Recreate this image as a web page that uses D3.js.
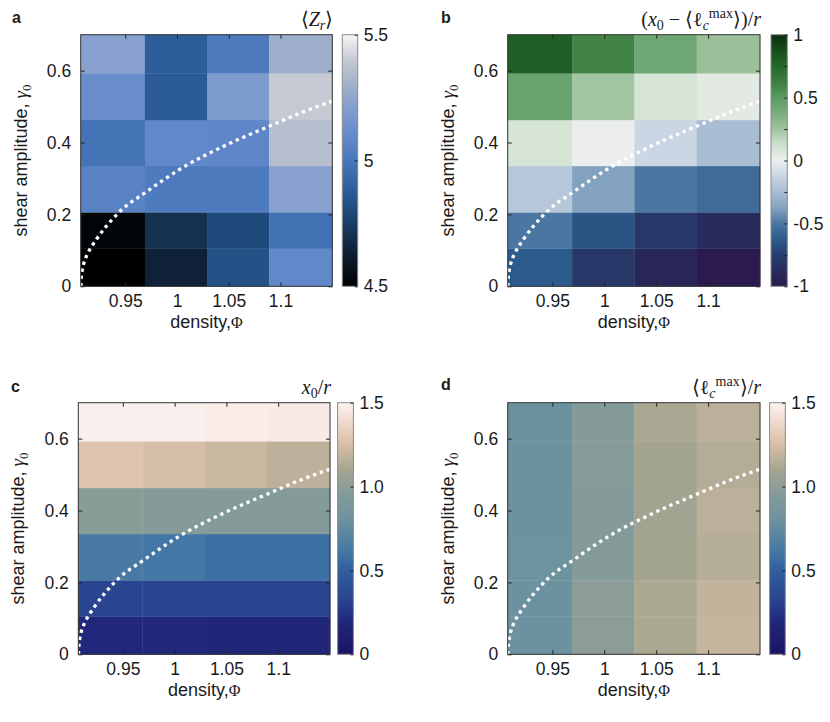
<!DOCTYPE html>
<html>
<head>
<meta charset="utf-8">
<script src="https://cdn.jsdelivr.net/npm/d3@7"></script>
<style>
  body { margin: 0; background: #fff; }
  svg { display: block; }
</style>
</head>
<body>
<script>
// ---- data (rows go bottom -> top, columns left -> right) ----
const densityEdges = [0.907, 0.969, 1.029, 1.089, 1.15];
const gammaEdges = [0, 0.105, 0.206, 0.335, 0.463, 0.593, 0.7];
const densityTicks = [0.95, 1, 1.05, 1.1];
const gammaTicks = [0, 0.2, 0.4, 0.6];

const zrValues = [
    [4.50, 4.64, 4.83, 5.09],
    [4.52, 4.70, 4.80, 4.97],
    [5.06, 5.02, 5.02, 5.22],
    [4.98, 5.09, 5.08, 5.36],
    [5.12, 4.87, 5.19, 5.40],
    [5.22, 4.88, 5.02, 5.29]
];
const diffValues = [
    [-0.62, -0.80, -0.92, -1.00],
    [-0.50, -0.65, -0.80, -0.88],
    [-0.20, -0.38, -0.50, -0.55],
    [0.10, 0.00, -0.12, -0.25],
    [0.45, 0.24, 0.10, 0.04],
    [0.80, 0.60, 0.42, 0.27]
];
const x0Values = [
    [0.20, 0.20, 0.19, 0.19],
    [0.33, 0.33, 0.32, 0.32],
    [0.63, 0.61, 0.58, 0.58],
    [0.98, 0.96, 0.95, 0.95],
    [1.28, 1.25, 1.21, 1.17],
    [1.48, 1.48, 1.47, 1.46]
];
const lcValues = [
    [0.80, 0.99, 1.12, 1.19],
    [0.80, 0.99, 1.12, 1.18],
    [0.81, 0.96, 1.09, 1.15],
    [0.80, 0.96, 1.08, 1.16],
    [0.80, 0.97, 1.09, 1.14],
    [0.79, 0.96, 1.11, 1.16]
];

// boundary curve (density, gamma)
const boundaryCurve = [
    [0.9072, 0.000], [0.9076, 0.025], [0.9085, 0.045], [0.910, 0.064],
    [0.913, 0.087], [0.917, 0.108], [0.922, 0.130], [0.932, 0.168],
    [0.947, 0.214], [0.969, 0.260], [1.007, 0.333], [1.046, 0.391],
    [1.088, 0.444], [1.127, 0.491], [1.150, 0.515]
];

const zrTicks = [4.5, 5, 5.5];
const diffTicks = [-1, -0.5, 0, 0.5, 1];
const diffMinorTicks = [-0.75, -0.25, 0.25, 0.75];
const ratioTicks = [0, 0.5, 1.0, 1.5];

// ---- colormaps ----
const zrMap = [[4.5, "#000000"], [4.64, "#0f2136"], [4.8, "#1f4b7c"], [4.88, "#2d5e9a"],
    [5.0, "#4977bb"], [5.1, "#648acb"], [5.22, "#87a0ce"], [5.32, "#a8b5cb"],
    [5.4, "#c5c9d2"], [5.5, "#f6f6f6"]];
const diffMap = [[-1, "#2a1a4e"], [-0.875, "#272c5e"], [-0.75, "#263f6f"], [-0.625, "#2a5a8a"],
    [-0.5, "#4b76a2"], [-0.375, "#85a4c0"], [-0.25, "#a9bdd3"], [-0.125, "#c9d5e3"],
    [0, "#eceeed"], [0.125, "#cfe1cf"], [0.25, "#a0c39e"], [0.375, "#7aad7d"],
    [0.5, "#5a9c62"], [0.625, "#3b7e3e"], [0.75, "#24682a"], [0.875, "#174e1a"], [1, "#0d2e0f"]];
const ratioMap = [[0, "#1a1464"], [0.2, "#21277a"], [0.33, "#2a4590"], [0.5, "#2f5e9c"],
    [0.6, "#4276a5"], [0.8, "#6b929e"], [0.97, "#879c99"], [1.1, "#a5a58f"],
    [1.18, "#c2b39d"], [1.27, "#dcc2aa"], [1.38, "#efd9cc"], [1.5, "#fdf3f3"]];

const makeColor = stops => d3.scaleLinear()
    .domain(stops.map(s => s[0]))
    .range(stops.map(s => s[1]))
    .interpolate(d3.interpolateRgb)
    .clamp(true);

const sans = "'Liberation Sans', Arial, sans-serif";
const serif = "'Liberation Serif', 'Times New Roman', serif";
const textColor = "#1a1a1a";

const svg = d3.select("body").append("svg")
    .attr("width", 830)
    .attr("height", 722);

const panels = [
    { id: "a", left: 80.7, top: 34.7, w: 251.6, h: 251.6, cbGap: 10, cbW: 15.4,
      values: zrValues, map: zrMap, cbTicks: zrTicks, cbMinor: [], fmt: d => d3.format("")(d),
      letterX: 12, letterY: 23, title: "zr" },
    { id: "b", left: 507.7, top: 34.7, w: 252.3, h: 251.6, cbGap: 11, cbW: 16.3,
      values: diffValues, map: diffMap, cbTicks: diffTicks, cbMinor: diffMinorTicks, fmt: d => String(d),
      letterX: 441, letterY: 23, title: "diff" },
    { id: "c", left: 78.3, top: 402.7, w: 251.7, h: 251.6, cbGap: 7.6, cbW: 15.8,
      values: x0Values, map: ratioMap, cbTicks: ratioTicks, cbMinor: [], fmt: d => d3.format(".1f")(d).replace("0.0", "0"),
      letterX: 11, letterY: 392, title: "x0" },
    { id: "d", left: 507.7, top: 402.7, w: 252.3, h: 251.6, cbGap: 9.6, cbW: 15.7,
      values: lcValues, map: ratioMap, cbTicks: ratioTicks, cbMinor: [], fmt: d => d3.format(".1f")(d).replace("0.0", "0"),
      letterX: 441, letterY: 390, title: "lc" }
];

panels.forEach(p => {
    const color = makeColor(p.map);
    const xScale = d3.scaleLinear().domain([densityEdges[0], densityEdges[densityEdges.length - 1]]).range([0, p.w]);
    const yScale = d3.scaleLinear().domain([0, 0.7]).range([p.h, 0]);

    const g = svg.append("g").attr("transform", `translate(${p.left},${p.top})`);

    // heatmap cells
    const cells = [];
    p.values.forEach((row, i) => row.forEach((v, j) => cells.push({ i, j, v })));
    g.append("g")
        .selectAll("rect")
        .data(cells)
        .join("rect")
        .attr("x", d => xScale(densityEdges[d.j]))
        .attr("y", d => yScale(gammaEdges[d.i + 1]))
        .attr("width", d => xScale(densityEdges[d.j + 1]) - xScale(densityEdges[d.j]) + 0.3)
        .attr("height", d => yScale(gammaEdges[d.i]) - yScale(gammaEdges[d.i + 1]) + 0.3)
        .attr("fill", d => color(d.v));

    // dotted boundary
    g.append("clipPath").attr("id", "clip" + p.id)
        .append("rect").attr("width", p.w).attr("height", p.h);
    const line = d3.line()
        .x(d => xScale(d[0]))
        .y(d => yScale(d[1]))
        .curve(d3.curveMonotoneX);
    g.append("path")
        .datum(boundaryCurve)
        .attr("clip-path", `url(#clip${p.id})`)
        .attr("d", line)
        .attr("fill", "none")
        .attr("stroke", "#ffffff")
        .attr("stroke-width", 3.3)
        .attr("stroke-dasharray", "3.3,3.9");

    // axes (ticks inside, like matlab)
    const styleAxis = a => a
        .call(s => s.select(".domain").remove())
        .call(s => s.selectAll("line").attr("stroke", "#222"))
        .call(s => s.selectAll("text").attr("fill", textColor).style("font-family", sans).style("font-size", "17.5px"));

    g.append("g")
        .attr("transform", `translate(0,${p.h})`)
        .call(d3.axisBottom(xScale).tickValues(densityTicks).tickSizeInner(-4).tickSizeOuter(0).tickPadding(8.5).tickFormat(d3.format("")))
        .call(styleAxis);
    g.append("g")
        .call(d3.axisTop(xScale).tickValues(densityTicks).tickSizeInner(-4).tickSizeOuter(0).tickFormat(""))
        .call(styleAxis);
    g.append("g")
        .call(d3.axisLeft(yScale).tickValues(gammaTicks).tickSizeInner(-4).tickSizeOuter(0).tickPadding(9.5).tickFormat(d3.format("")))
        .call(styleAxis);
    g.append("g")
        .attr("transform", `translate(${p.w},0)`)
        .call(d3.axisRight(yScale).tickValues(gammaTicks).tickSizeInner(-4).tickSizeOuter(0).tickFormat(""))
        .call(styleAxis);

    g.append("rect")
        .attr("width", p.w).attr("height", p.h)
        .attr("fill", "none").attr("stroke", "#333").attr("stroke-width", 1);

    // axis titles
    const xt = g.append("text")
        .attr("x", p.w / 2).attr("y", p.h + 42)
        .attr("text-anchor", "middle")
        .attr("fill", textColor)
        .style("font-family", sans).style("font-size", "18px");
    xt.append("tspan").text("density,");
    xt.append("tspan").style("font-family", serif).style("font-size", "16px").text("Φ");

    const yt = g.append("text")
        .attr("transform", `translate(-54,${p.h / 2}) rotate(-90)`)
        .attr("text-anchor", "middle")
        .attr("fill", textColor)
        .style("font-family", sans).style("font-size", "18px");
    yt.append("tspan").text("shear amplitude, ");
    yt.append("tspan").style("font-family", serif).style("font-style", "italic").style("font-size", "19px").text("γ");
    yt.append("tspan").attr("dy", 4).style("font-family", serif).style("font-size", "13px").text("0");

    // colorbar
    const cbX = p.w + p.cbGap;
    const cDomain = [p.map[0][0], p.map[p.map.length - 1][0]];
    const cScale = d3.scaleLinear().domain(cDomain).range([p.h, 0]);
    const gradId = "grad" + p.id;
    const grad = svg.append("defs").append("linearGradient")
        .attr("id", gradId)
        .attr("x1", 0).attr("y1", 1).attr("x2", 0).attr("y2", 0);
    d3.range(0, 1.0001, 0.02).forEach(t => {
        grad.append("stop")
            .attr("offset", t)
            .attr("stop-color", color(cDomain[0] + t * (cDomain[1] - cDomain[0])));
    });
    const cb = g.append("g").attr("transform", `translate(${cbX},0)`);
    cb.append("rect")
        .attr("width", p.cbW).attr("height", p.h)
        .attr("fill", `url(#${gradId})`)
        .attr("stroke", "#8a8a8a").attr("stroke-width", 1);
    cb.append("g")
        .attr("transform", `translate(${p.cbW},0)`)
        .call(d3.axisRight(cScale).tickValues(p.cbTicks).tickSizeInner(-3).tickSizeOuter(0).tickPadding(6).tickFormat(p.fmt))
        .call(styleAxis);
    if (p.cbMinor.length) {
        cb.append("g")
            .attr("transform", `translate(${p.cbW},0)`)
            .call(d3.axisRight(cScale).tickValues(p.cbMinor).tickSizeInner(-3).tickSizeOuter(0).tickFormat(""))
            .call(styleAxis);
    }

    // colorbar title, right-aligned with plot
    const tt = g.append("text")
        .attr("x", p.w + 1).attr("y", -9)
        .attr("text-anchor", "end")
        .attr("fill", textColor)
        .style("font-family", serif).style("font-size", "20px");
    const sub = "14px";
    if (p.title === "zr") {
        tt.append("tspan").text("⟨");
        tt.append("tspan").style("font-style", "italic").text("Z");
        tt.append("tspan").attr("dy", 4).style("font-style", "italic").style("font-size", sub).text("r");
        tt.append("tspan").attr("dy", -4).text("⟩");
    } else if (p.title === "diff") {
        tt.append("tspan").text("(");
        tt.append("tspan").style("font-style", "italic").text("x");
        tt.append("tspan").attr("dy", 4).style("font-size", sub).text("0");
        tt.append("tspan").attr("dy", -4).text(" − ⟨ℓ");
        tt.append("tspan").attr("dy", 4).style("font-style", "italic").style("font-size", sub).text("c");
        tt.append("tspan").attr("dy", -12).style("font-size", sub).text("max");
        tt.append("tspan").attr("dy", 8).text("⟩)/");
        tt.append("tspan").style("font-style", "italic").text("r");
    } else if (p.title === "x0") {
        tt.append("tspan").style("font-style", "italic").text("x");
        tt.append("tspan").attr("dy", 4).style("font-size", sub).text("0");
        tt.append("tspan").attr("dy", -4).text("/");
        tt.append("tspan").style("font-style", "italic").text("r");
    } else {
        tt.append("tspan").text("⟨ℓ");
        tt.append("tspan").attr("dy", 4).style("font-style", "italic").style("font-size", sub).text("c");
        tt.append("tspan").attr("dy", -12).style("font-size", sub).text("max");
        tt.append("tspan").attr("dy", 8).text("⟩/");
        tt.append("tspan").style("font-style", "italic").text("r");
    }

    // panel letter
    svg.append("text")
        .attr("x", p.letterX).attr("y", p.letterY)
        .attr("fill", "#24190e")
        .style("font-family", sans).style("font-weight", "bold").style("font-size", "16px")
        .text(p.id);
});
</script>
</body>
</html>
